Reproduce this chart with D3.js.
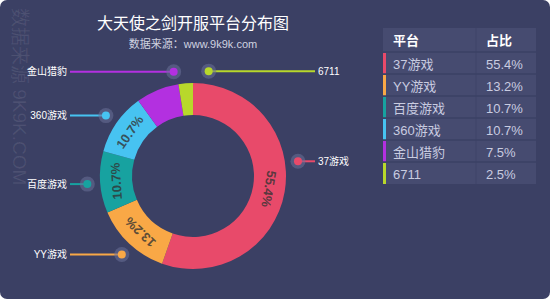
<!DOCTYPE html>
<html>
<head>
<meta charset="utf-8">
<script src="https://cdn.jsdelivr.net/npm/d3@7"></script>
<style>
	html, body {margin: 0; padding: 0; background: #fff;}
	#chart {width: 550px; height: 299px;}
	text {font-family: "Liberation Sans", "Noto Sans CJK SC", sans-serif;}
</style>
</head>
<body>
<div id="chart"></div>
<script>
	const platforms = ["37游戏", "YY游戏", "百度游戏", "360游戏", "金山猎豹", "6711"];
	const shares = [55.4, 13.2, 10.7, 10.7, 7.5, 2.5];
	const colors = ["#e84a6a", "#f9a846", "#17a2a0", "#47c3f1", "#b330e0", "#b8d82b"];
	const tableHeader = ["平台", "占比"];

	const title = "大天使之剑开服平台分布图";
	const subtitle = "数据来源：www.9k9k.com";
	const watermark = "数据来源 9K9K.COM";

	const width = 550, height = 299;
	const cx = 193, cy = 176;
	const outerR = 93, innerR = 61, dotR = 106;
	// label dots are pushed off the slice middle so they don't crowd (degrees)
	const labelNudge = [-17.7, -1, -0.6, 0, 12, 13];

	const data = platforms.map((p, i) => ({name: p, value: shares[i], color: colors[i], nudge: labelNudge[i]}));

	let svg = d3.select("#chart")
		.append("svg")
		.attr("width", width)
		.attr("height", height);

	svg.append("rect")
		.attr("width", width)
		.attr("height", height)
		.attr("rx", 7)
		.attr("fill", "#3b4064");

	// watermark
	svg.append("text")
		.attr("transform", "translate(13,8) rotate(90)")
		.attr("font-size", 19)
		.attr("fill", "#fff")
		.attr("fill-opacity", 0.09)
		.text(watermark);

	svg.append("text")
		.attr("x", cx).attr("y", 29)
		.attr("text-anchor", "middle")
		.attr("font-family", "Noto Sans CJK SC")
		.attr("font-size", 16)
		.attr("fill", "#fff")
		.text(title);

	svg.append("text")
		.attr("x", cx).attr("y", 48)
		.attr("text-anchor", "middle")
		.attr("font-size", 11)
		.attr("fill", "#d0d2e0")
		.text(subtitle);

	// donut
	let pie = d3.pie().sort(null).value(d => d.value);
	let arc = d3.arc().innerRadius(innerR).outerRadius(outerR);
	let arcs = pie(data);

	let g = svg.append("g").attr("transform", "translate(" + cx + "," + cy + ")");

	g.selectAll("path.slice")
		.data(arcs)
		.enter().append("path")
		.attr("class", "slice")
		.attr("fill", d => d.data.color)
		.attr("d", arc);

	const midR = (innerR + outerR) / 2;
	g.selectAll("text.pct")
		.data(arcs.filter(d => d.data.value >= 10))
		.enter().append("text")
		.attr("class", "pct")
		.attr("transform", d => {
			let a = (d.startAngle + d.endAngle) / 2;
			let x = Math.sin(a) * midR, y = -Math.cos(a) * midR;
			return "translate(" + x + "," + y + ") rotate(" + (a * 180 / Math.PI) + ")";
		})
		.attr("text-anchor", "middle")
		.attr("dy", "0.35em")
		.attr("font-family", "DejaVu Sans, sans-serif")
		.attr("font-weight", "bold")
		.attr("font-size", 13)
		.attr("fill", "#333")
		.attr("fill-opacity", 0.8)
		.text(d => d.data.value + "%");

	// outer labels with dots
	arcs.forEach(d => {
		let a = (d.startAngle + d.endAngle) / 2 + d.data.nudge * Math.PI / 180;
		let x = cx + Math.sin(a) * dotR, y = cy - Math.cos(a) * dotR;
		let right = Math.sin(a) > 0;
		let tx = right ? 315 : 70;
		svg.append("line")
			.attr("x1", x).attr("y1", y)
			.attr("x2", tx).attr("y2", y)
			.attr("stroke", d.data.color)
			.attr("stroke-width", 2);
		svg.append("circle")
			.attr("cx", x).attr("cy", y).attr("r", 7.5)
			.attr("fill", "#6a6f98").attr("fill-opacity", 0.55);
		svg.append("circle")
			.attr("cx", x).attr("cy", y).attr("r", 4)
			.attr("fill", d.data.color);
		svg.append("text")
			.attr("x", right ? tx + 3 : tx - 3).attr("y", y)
			.attr("dy", "0.35em")
			.attr("text-anchor", right ? "start" : "end")
			.attr("font-size", 10)
			.attr("fill", "#fff")
			.text(d.data.name);
	});

	// table
	const tx0 = 383, tw = 153, col2 = 476, headH = 24, rowH = 22, ty0 = 28;
	let t = svg.append("g");
	t.append("rect")
		.attr("x", tx0).attr("y", ty0)
		.attr("width", tw).attr("height", headH + rowH * data.length)
		.attr("fill", "#464b70");
	t.append("line")
		.attr("x1", col2).attr("x2", col2)
		.attr("y1", ty0).attr("y2", ty0 + headH + rowH * data.length)
		.attr("stroke", "#3f4468").attr("stroke-width", 1);
	tableHeader.forEach((h, i) => {
		t.append("text")
			.attr("x", i ? col2 + 10 : tx0 + 10)
			.attr("y", ty0 + headH / 2)
			.attr("dy", "0.35em")
			.attr("font-size", 13)
			.attr("font-weight", "bold")
			.attr("fill", "#fff")
			.text(h);
	});
	let rows = t.selectAll("g.row")
		.data(data)
		.enter().append("g")
		.attr("class", "row")
		.attr("transform", (d, i) => "translate(0," + (ty0 + headH + i * rowH) + ")");
	rows.append("line")
		.attr("x1", tx0).attr("x2", tx0 + tw)
		.attr("y1", 0).attr("y2", 0)
		.attr("stroke", "#3b4064").attr("stroke-width", 1.5);
	rows.append("rect")
		.attr("x", tx0).attr("y", 1)
		.attr("width", 3).attr("height", rowH - 1)
		.attr("fill", d => d.color);
	rows.append("text")
		.attr("x", tx0 + 10).attr("y", rowH / 2 + 1)
		.attr("dy", "0.35em")
		.attr("font-size", 13)
		.attr("fill", "#c9cce0")
		.text(d => d.name);
	rows.append("text")
		.attr("x", col2 + 10).attr("y", rowH / 2 + 1)
		.attr("dy", "0.35em")
		.attr("font-size", 13)
		.attr("fill", "#c9cce0")
		.text(d => d.value + "%");
</script>
</body>
</html>
